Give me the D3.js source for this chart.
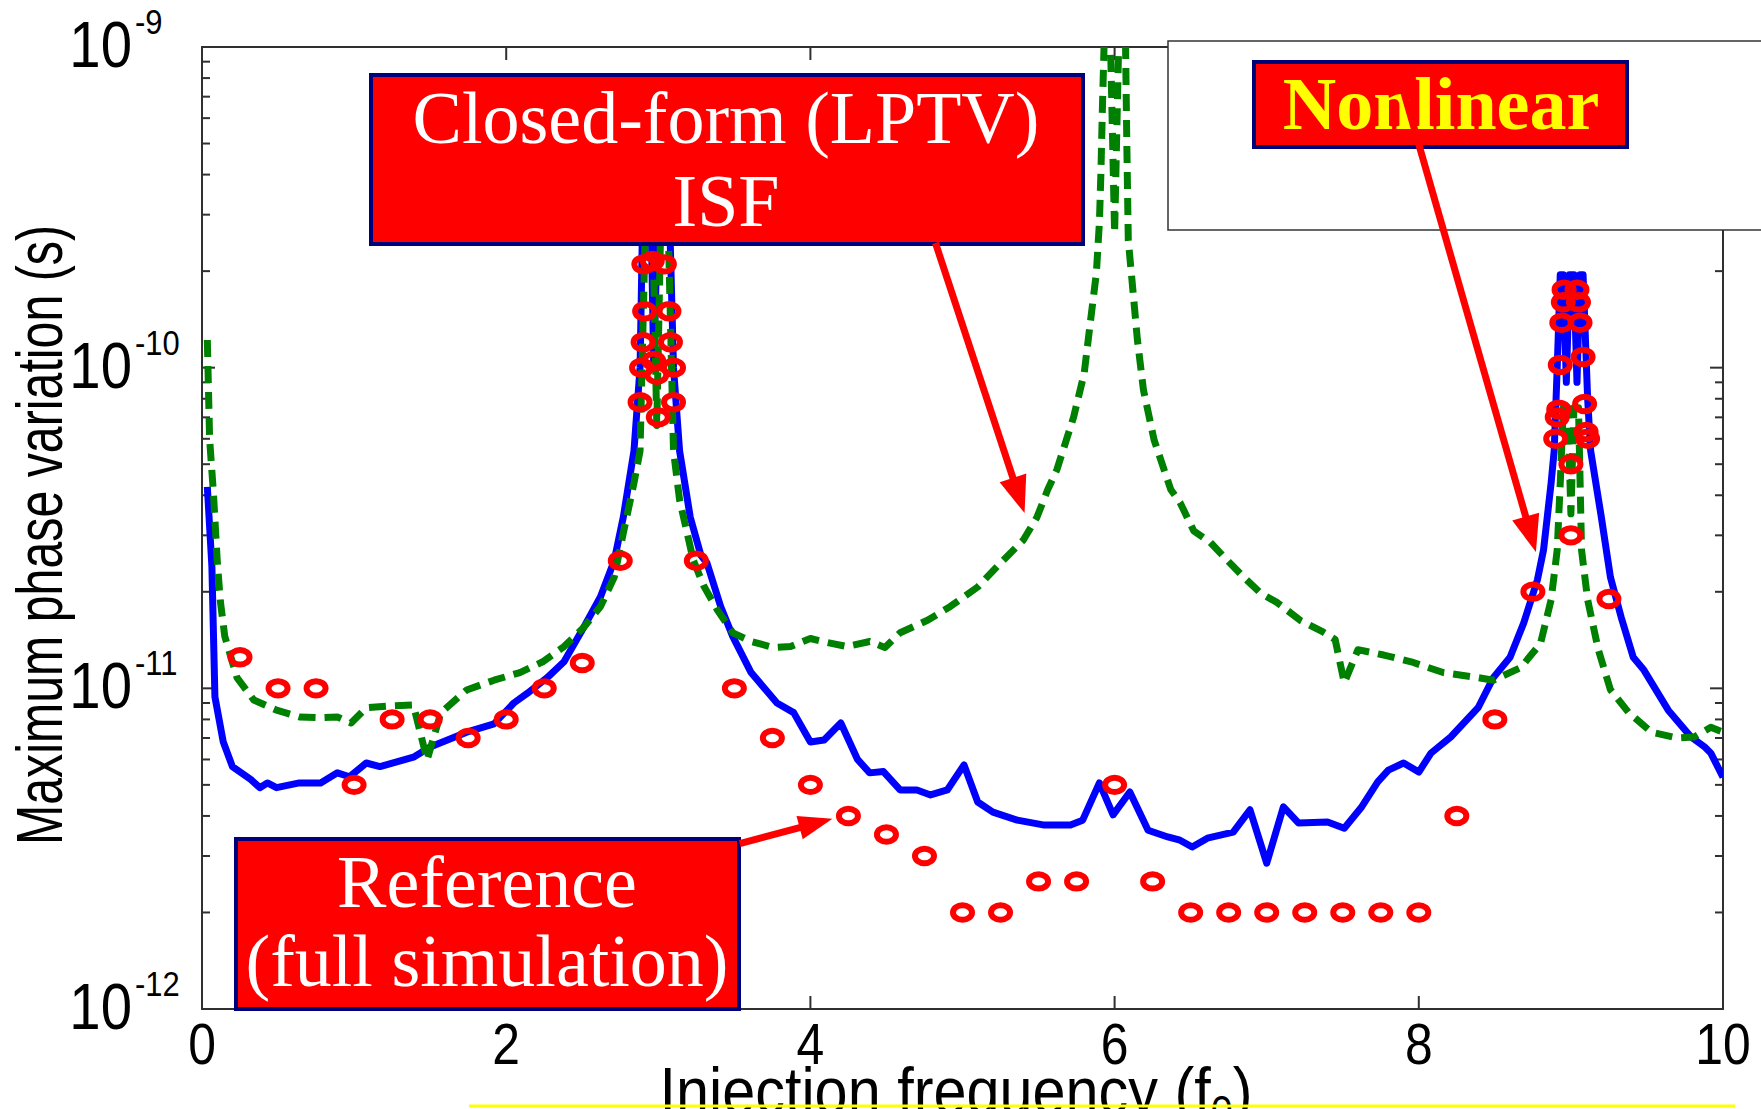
<!DOCTYPE html>
<html>
<head>
<meta charset="utf-8">
<script src="https://cdn.jsdelivr.net/npm/d3@7"></script>
<style>
  html, body { margin: 0; padding: 0; background: #fff; }
  svg { display: block; }
</style>
</head>
<body>
<svg id="chart" width="1761" height="1109"></svg>
<script>
// ---------------- DATA ----------------
const xTicks = [0, 2, 4, 6, 8, 10];
const yDecades = [-12, -11, -10, -9];

// Nonlinear ISF (blue solid) : [f/f0, max phase variation (s)]
const nonlinearF = [0.035,0.065,0.085,0.14,0.2,0.32,0.38,0.43,0.49,0.64,0.78,0.89,0.97,1.08,1.17,1.39,1.5,1.74,1.92,2.05,2.14,2.27,2.38,2.51,2.62,2.71,2.77,2.84,2.88,2.9,2.95,2.97,3.0,3.07,3.1,3.14,3.21,3.28,3.32,3.41,3.49,3.61,3.78,3.89,4.0,4.09,4.2,4.31,4.39,4.48,4.59,4.7,4.79,4.9,5.01,5.1,5.2,5.36,5.53,5.71,5.79,5.9,5.99,6.1,6.22,6.35,6.43,6.51,6.61,6.78,6.89,7.0,7.11,7.21,7.4,7.51,7.62,7.73,7.8,7.9,8.0,8.08,8.21,8.39,8.49,8.6,8.69,8.78,8.82,8.87,8.89,8.91,8.93,8.95,8.97,8.99,9.02,9.04,9.06,9.08,9.11,9.13,9.2,9.26,9.33,9.41,9.48,9.64,9.79,9.88,9.92,10.0];
const nonlinearV = [4.25e-11,2.4e-11,9.4e-12,6.8e-12,5.7e-12,5.2e-12,4.9e-12,5.07e-12,4.9e-12,5.07e-12,5.07e-12,5.45e-12,5.3e-12,5.85e-12,5.7e-12,6.1e-12,6.56e-12,7.3e-12,7.75e-12,9.0e-12,9.66e-12,1.08e-11,1.21e-11,1.55e-11,1.93e-11,2.5e-11,3.42e-11,5.5e-11,1.0e-10,3.5e-10,3.5e-10,1.0e-10,3.5e-10,3.5e-10,1.0e-10,5.5e-11,3.42e-11,2.6e-11,2.46e-11,1.8e-11,1.45e-11,1.12e-11,9.0e-12,8.4e-12,6.8e-12,6.9e-12,7.8e-12,6.0e-12,5.45e-12,5.5e-12,4.82e-12,4.82e-12,4.65e-12,4.82e-12,5.77e-12,4.42e-12,4.11e-12,3.88e-12,3.75e-12,3.75e-12,3.88e-12,5.07e-12,4.03e-12,4.75e-12,3.61e-12,3.44e-12,3.36e-12,3.2e-12,3.41e-12,3.56e-12,4.18e-12,2.85e-12,4.27e-12,3.8e-12,3.83e-12,3.66e-12,4.24e-12,5.11e-12,5.56e-12,5.85e-12,5.48e-12,6.28e-12,7.05e-12,8.7e-12,1.08e-11,1.25e-11,1.6e-11,2.18e-11,2.7e-11,4.37e-11,5.5e-11,1.0e-10,1.95e-10,1.95e-10,9.0e-11,1.95e-10,1.95e-10,9.0e-11,1.95e-10,1.95e-10,8.0e-11,5.5e-11,3.42e-11,2.22e-11,1.67e-11,1.25e-11,1.14e-11,8.55e-12,7.05e-12,6.56e-12,6.28e-12,5.28e-12];

// Closed-form (LPTV) ISF (green dashed)
const closedF = [0.035,0.05,0.075,0.1,0.12,0.15,0.23,0.34,0.49,0.64,0.78,0.89,0.98,1.08,1.21,1.39,1.48,1.57,1.74,1.92,2.09,2.24,2.38,2.51,2.62,2.71,2.77,2.84,2.88,2.92,2.96,2.99,3.02,3.06,3.1,3.14,3.23,3.3,3.39,3.49,3.61,3.76,3.87,4.0,4.11,4.24,4.39,4.49,4.59,4.77,4.92,5.1,5.25,5.4,5.49,5.56,5.62,5.73,5.8,5.84,5.88,5.9,5.91,5.92,5.935,5.97,6.0,6.03,6.07,6.08,6.09,6.12,6.15,6.19,6.26,6.37,6.43,6.52,6.63,6.74,6.85,6.96,7.07,7.22,7.37,7.45,7.51,7.6,7.77,7.95,8.16,8.39,8.49,8.67,8.8,8.87,8.91,8.93,8.95,8.98,9.0,9.02,9.05,9.07,9.11,9.18,9.26,9.38,9.53,9.7,9.81,9.92,10.0];
const closedV = [1.22e-10,6.0e-11,4.07e-11,2.51e-11,1.88e-11,1.45e-11,1.08e-11,9.2e-12,8.55e-12,8.14e-12,8.1e-12,8.14e-12,7.8e-12,8.7e-12,8.8e-12,8.87e-12,5.98e-12,8.38e-12,9.88e-12,1.06e-11,1.12e-11,1.21e-11,1.35e-11,1.55e-11,1.8e-11,2.22e-11,3.05e-11,4.37e-11,5.5e-11,3.5e-10,3.5e-10,6.6e-11,3.5e-10,3.5e-10,5.5e-11,3.87e-11,2.51e-11,2.08e-11,1.75e-11,1.49e-11,1.4e-11,1.34e-11,1.35e-11,1.43e-11,1.39e-11,1.35e-11,1.4e-11,1.34e-11,1.49e-11,1.63e-11,1.8e-11,2.07e-11,2.46e-11,2.9e-11,3.42e-11,4.16e-11,4.8e-11,7.0e-11,9.6e-11,1.38e-10,1.97e-10,2.83e-10,4.05e-10,6.5e-10,1.2e-9,1.2e-9,2.63e-10,1.2e-9,1.2e-9,5.13e-10,2.5e-10,1.75e-10,1.22e-10,8.5e-11,5.94e-11,4.16e-11,3.8e-11,3.1e-11,2.85e-11,2.51e-11,2.22e-11,1.98e-11,1.85e-11,1.63e-11,1.5e-11,1.42e-11,1.04e-11,1.32e-11,1.27e-11,1.21e-11,1.12e-11,1.08e-11,1.06e-11,1.16e-11,1.38e-11,1.89e-11,2.7e-11,4.37e-11,7.5e-11,7.5e-11,3.5e-11,7.5e-11,7.5e-11,2.7e-11,1.89e-11,1.32e-11,9.9e-12,8.4e-12,7.3e-12,7.0e-12,7.05e-12,7.56e-12,7.3e-12];

// Reference (full simulation) red circles
const refF = [0.25,0.5,0.75,1.0,1.25,1.5,1.75,2.0,2.25,2.5,2.75,
  2.88,2.89,2.9,2.91,2.905,2.96,2.97,2.99,3.0,3.04,3.07,3.08,3.1,3.1,
  3.25,3.5,3.75,4.0,4.25,4.5,4.75,5.0,5.25,5.5,5.75,6.0,6.25,6.5,6.75,7.0,7.25,7.5,7.75,8.0,8.25,8.5,8.75,
  8.9,8.91,8.92,8.93,8.94,8.95,8.955,9.0,9.0,9.04,9.05,9.06,9.08,9.09,9.1,9.11,
  9.25];
const refV = [1.25e-11,1.0e-11,1.0e-11,5.0e-12,8.0e-12,8.0e-12,7.0e-12,8.0e-12,1.0e-11,1.2e-11,2.5e-11,
  7.8e-11,1.0e-10,1.2e-10,1.5e-10,2.1e-10,2.15e-10,1.05e-10,9.5e-11,7.0e-11,2.1e-10,1.5e-10,1.2e-10,1.0e-10,7.8e-11,
  2.5e-11,1.0e-11,7.0e-12,5.0e-12,4.0e-12,3.5e-12,3.0e-12,2.0e-12,2.0e-12,2.5e-12,2.5e-12,5.0e-12,2.5e-12,2.0e-12,2.0e-12,2.0e-12,2.0e-12,2.0e-12,2.0e-12,2.0e-12,4.0e-12,8.0e-12,2.0e-11,
  6.0e-11,7.0e-11,7.4e-11,1.02e-10,1.38e-10,1.6e-10,1.75e-10,5.0e-11,3.0e-11,1.75e-10,1.6e-10,1.38e-10,1.08e-10,7.7e-11,6.3e-11,6.0e-11,
  1.9e-11];

// Annotation texts and the points their arrows aim at ([f, value])
const labelClosed = ["Closed-form (LPTV)", "ISF"];
const labelNonlinear = "Nonlinear";
const labelReference = ["Reference", "(full simulation)"];
const arrowClosed = {from: [4.822, 2.45e-10], to: [5.408, 3.52e-11]};
const arrowNonlinear = {from: [7.862, 8.4e-10], to: [8.77, 2.66e-11]};
const arrowReference = {from: [3.535, 3.28e-12], to: [4.145, 3.92e-12]};

// ---------------- LAYOUT ----------------
const W = 1761, H = 1109;
const L = 202, R = 1723, T = 47, B = 1009;
const svg = d3.select("#chart");
svg.append("rect").attr("width", W).attr("height", H).attr("fill", "#fff");

const x = d3.scaleLinear().domain([0, 10]).range([L, R]);
const y = d3.scaleLog().domain([1e-12, 1e-9]).range([B, T]);

const sans = "'Liberation Sans', Arial, Helvetica, sans-serif";
const serif = "'Liberation Serif', 'Times New Roman', Times, serif";

// clip
svg.append("defs").append("clipPath").attr("id", "plotclip")
  .append("rect").attr("x", L).attr("y", T).attr("width", R - L).attr("height", B - T);

// axes frame
const axC = "#303030";
const ax = svg.append("g").attr("stroke", axC).attr("stroke-width", 2).attr("fill", "none");
ax.append("rect").attr("x", L).attr("y", T).attr("width", R - L).attr("height", B - T);

// condensed text helper (the original figure's text is vertically stretched)
function ctext(px, py, str, size, sx, anchor) {
  return svg.append("text")
    .attr("transform", `translate(${px},${py}) scale(${sx},1)`)
    .attr("text-anchor", anchor).attr("font-family", sans).attr("font-size", size)
    .attr("fill", "#000").text(str);
}

// x ticks (bottom and top, inward)
xTicks.forEach(t => {
  const px = x(t);
  ax.append("line").attr("x1", px).attr("x2", px).attr("y1", B).attr("y2", B - 13);
  ax.append("line").attr("x1", px).attr("x2", px).attr("y1", T).attr("y2", T + 13);
  ctext(px, 1064, t, 58, 0.86, "middle");
});

// y ticks (left and right, inward) — majors at decades, minors 2..9
yDecades.forEach(d => {
  const base = Math.pow(10, d);
  const py = y(base);
  ax.append("line").attr("x1", L).attr("x2", L + 13).attr("y1", py).attr("y2", py);
  ax.append("line").attr("x1", R).attr("x2", R - 13).attr("y1", py).attr("y2", py);
  if (d < -9) {
    for (let m = 2; m <= 9; m++) {
      const pm = y(m * base);
      ax.append("line").attr("x1", L).attr("x2", L + 8).attr("y1", pm).attr("y2", pm);
      ax.append("line").attr("x1", R).attr("x2", R - 8).attr("y1", pm).attr("y2", pm);
    }
  }
  ctext(132, py + 20, "10", 64, 0.88, "end");
  ctext(135, py - 13, String(d), 36, 0.86, "start");
});

// axis labels
svg.append("text")
  .attr("transform", "translate(62,535) rotate(-90)")
  .attr("text-anchor", "middle").attr("font-family", sans).attr("font-size", 64)
  .attr("textLength", 620).attr("lengthAdjust", "spacingAndGlyphs")
  .attr("fill", "#000").text("Maximum phase variation (s)");

const xl = svg.append("text")
  .attr("transform", "translate(956,1114) scale(0.9,1)")
  .attr("text-anchor", "middle").attr("font-family", sans).attr("font-size", 66).attr("fill", "#000");
xl.append("tspan").text("Injection frequency (f");
xl.append("tspan").attr("font-size", 44).attr("dy", 13).text("0");
xl.append("tspan").attr("dy", -13).text(")");

// ---------------- SERIES ----------------
const plot = svg.append("g").attr("clip-path", "url(#plotclip)");
const line = d3.line().x(d => x(d[0])).y(d => y(d[1]));

const nonlinear = nonlinearF.map((f, i) => [f, nonlinearV[i]]);
const closed = closedF.map((f, i) => [f, closedV[i]]);
const ref = refF.map((f, i) => [f, refV[i]]);

plot.append("path").datum(nonlinear).attr("d", line)
  .attr("fill", "none").attr("stroke", "#0000ff").attr("stroke-width", 7)
  .attr("stroke-linejoin", "round");

plot.append("path").datum(closed).attr("d", line)
  .attr("fill", "none").attr("stroke", "#008000").attr("stroke-width", 7)
  .attr("stroke-dasharray", "17,9").attr("stroke-linejoin", "round");

plot.selectAll("ellipse.ref").data(ref).enter().append("ellipse")
  .attr("class", "ref")
  .attr("cx", d => x(d[0])).attr("cy", d => y(d[1]))
  .attr("rx", 9.5).attr("ry", 7.2)
  .attr("fill", "none").attr("stroke", "#ff0000").attr("stroke-width", 6);

// ---------------- ANNOTATIONS ----------------
function arrow(a, headLen, headHalf) {
  const x1 = x(a.from[0]), y1 = y(a.from[1]);
  const x2 = x(a.to[0]), y2 = y(a.to[1]);
  const dx = x2 - x1, dy = y2 - y1, len = Math.hypot(dx, dy);
  const ux = dx / len, uy = dy / len;
  const bx = x2 - ux * headLen, by = y2 - uy * headLen;
  svg.append("line").attr("x1", x1).attr("y1", y1).attr("x2", bx + ux * 2).attr("y2", by + uy * 2)
    .attr("stroke", "#ff0000").attr("stroke-width", 7);
  svg.append("polygon")
    .attr("points", [[x2, y2], [bx - uy * headHalf, by + ux * headHalf], [bx + uy * headHalf, by - ux * headHalf]].map(p => p.join(",")).join(" "))
    .attr("fill", "#ff0000");
}

// white box behind "Nonlinear"
svg.append("rect").attr("x", 1168).attr("y", 41).attr("width", 620).attr("height", 189)
  .attr("fill", "#fff").attr("stroke", "#333").attr("stroke-width", 1.5);

// Closed-form box
svg.append("rect").attr("x", 371).attr("y", 75).attr("width", 712).attr("height", 169)
  .attr("fill", "#ff0000").attr("stroke", "#00007a").attr("stroke-width", 4);
labelClosed.forEach((t, i) => {
  svg.append("text").attr("x", 726).attr("y", 143 + i * 83)
    .attr("text-anchor", "middle").attr("font-family", serif).attr("font-size", 74)
    .attr("fill", "#fff").text(t);
});

// Nonlinear box
svg.append("rect").attr("x", 1254).attr("y", 62).attr("width", 373).attr("height", 85)
  .attr("fill", "#ff0000").attr("stroke", "#00007a").attr("stroke-width", 4);
svg.append("text").attr("x", 1441).attr("y", 129)
  .attr("text-anchor", "middle").attr("font-family", serif).attr("font-weight", "bold")
  .attr("font-size", 74).attr("fill", "#ffff00").text(labelNonlinear);

// Reference box
svg.append("rect").attr("x", 236).attr("y", 839).attr("width", 503).attr("height", 170)
  .attr("fill", "#ff0000").attr("stroke", "#00007a").attr("stroke-width", 4);
labelReference.forEach((t, i) => {
  svg.append("text").attr("x", 487).attr("y", 907 + i * 79)
    .attr("text-anchor", "middle").attr("font-family", serif).attr("font-size", 74)
    .attr("fill", "#fff").text(t);
});

arrow(arrowClosed, 37, 14);
arrow(arrowNonlinear, 37, 14);
arrow(arrowReference, 34, 12);

// yellow underline at the bottom
svg.append("line").attr("x1", 469).attr("x2", 1735).attr("y1", 1106).attr("y2", 1106)
  .attr("stroke", "#ffff00").attr("stroke-width", 3);
</script>
</body>
</html>
